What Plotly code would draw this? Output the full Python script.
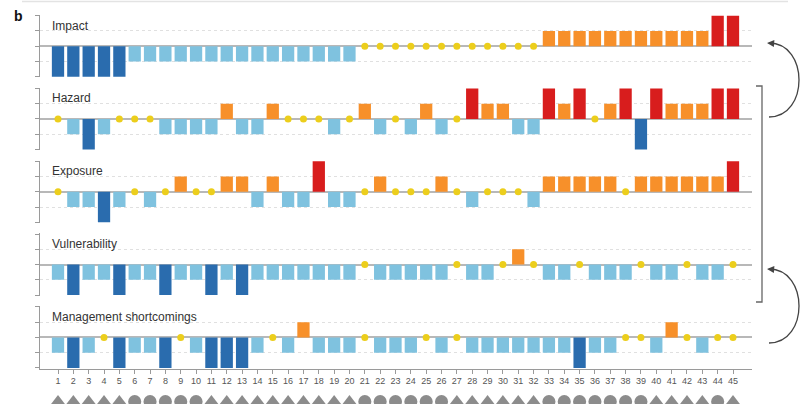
import plotly.graph_objects as go

# Case numbers along the x axis
cases = list(range(1, 46))

# Scores per factor: -2 strong decrease ... +2 strong increase, 0 = no change
impact = [-2, -2, -2, -2, -2, -1, -1, -1, -1, -1, -1, -1, -1, -1, -1,
          -1, -1, -1, -1, -1, 0, 0, 0, 0, 0, 0, 0, 0, 0, 0,
          0, 0, 1, 1, 1, 1, 1, 1, 1, 1, 1, 1, 1, 2, 2]
hazard = [0, -1, -2, -1, 0, 0, 0, -1, -1, -1, -1, 1, -1, -1, 1,
          0, 0, 0, -1, 0, 1, -1, 0, -1, 1, -1, 0, 2, 1, 1,
          -1, -1, 2, 1, 2, 0, 1, 2, -2, 2, 1, 1, 1, 2, 2]
exposure = [0, -1, -1, -2, -1, 0, -1, 0, 1, 0, 0, 1, 1, -1, 1,
            -1, -1, 2, -1, -1, 0, 1, 0, 0, 0, 1, 0, -1, 0, 0,
            0, -1, 1, 1, 1, 1, 1, 0, 1, 1, 1, 1, 1, 1, 2]
vulnerability = [-1, -2, -1, -1, -2, -1, -1, -2, -1, -1, -2, -1, -2, -1, -1,
                 -1, -1, -1, -1, -1, 0, -1, -1, -1, -1, -1, 0, -1, -1, 0,
                 1, 0, -1, -1, 0, -1, -1, -1, 0, -1, -1, 0, -1, -1, 0]
management = [-1, -2, -1, 0, -2, -1, -1, -2, 0, -1, -2, -2, -2, -1, 0,
              -1, 1, -1, -1, -1, 0, -1, -1, -1, 0, -1, 0, -1, -1, -1,
              -1, -1, -1, -1, -2, -1, -1, 0, 0, -1, 1, 0, -1, 0, 0]

# Event type per case: T = triangle, C = circle
event_type = ["T", "T", "T", "T", "T", "C", "C", "C", "C", "C",
              "T", "T", "T", "T", "T", "T", "T", "T", "T", "T",
              "C", "C", "C", "C", "C", "C", "T", "T", "T", "T",
              "T", "T", "C", "C", "C", "C", "C", "C", "C", "T",
              "T", "T", "T", "C", "T"]

panels = [
    ("Impact", impact),
    ("Hazard", hazard),
    ("Exposure", exposure),
    ("Vulnerability", vulnerability),
    ("Management shortcomings", management),
]

COLORS = {-2: "#2a6cae", -1: "#7fc2df", 1: "#f7902a", 2: "#d81d1d"}
DOT = "#ecce1c"
FONT = "Liberation Sans, Arial, sans-serif"

W, H = 800, 404
ML, MR = 40, 48
PW = W - ML - MR
UNIT = 15.25
HALF = 2.05 * UNIT
ZEROS = [46.2 + 72.8 * k for k in range(5)]
X_RANGE = [-0.1733, 46.2385]


def xp(px):
    return (px - ML) / PW


def yp(py):
    return (H - py) / H


fig = go.Figure()
layout = dict(
    width=W, height=H,
    margin=dict(l=ML, r=MR, t=0, b=0),
    paper_bgcolor="white", plot_bgcolor="white",
    showlegend=False,
    font=dict(family=FONT, color="#333"),
    bargap=0.2,
)

annotations = []
for k, (name, vals) in enumerate(panels):
    idx = k + 1
    xa = "x" if idx == 1 else f"x{idx}"
    ya = "y" if idx == 1 else f"y{idx}"
    z = ZEROS[k]
    dom = [yp(z + HALF), yp(z - HALF)]

    bar_y = [v if v != 0 else None for v in vals]
    bar_c = [COLORS.get(v, "rgba(0,0,0,0)") for v in vals]
    fig.add_trace(go.Bar(
        x=cases, y=bar_y, width=0.8,
        marker=dict(color=bar_c, line=dict(width=0)),
        xaxis=xa, yaxis=ya, hoverinfo="skip",
    ))
    dots = [c for c, v in zip(cases, vals) if v == 0]
    fig.add_trace(go.Scatter(
        x=dots, y=[0] * len(dots), mode="markers",
        marker=dict(color=DOT, size=7, line=dict(width=0)),
        xaxis=xa, yaxis=ya, hoverinfo="skip", cliponaxis=False,
    ))

    bottom = idx == 5
    layout["xaxis" if idx == 1 else f"xaxis{idx}"] = dict(
        domain=[0, 1], range=X_RANGE, anchor=ya,
        matches=None if idx == 1 else "x",
        showgrid=False, zeroline=False,
        showline=bottom, linecolor="#9a9a9a", linewidth=1,
        ticks="outside" if bottom else "", ticklen=4, tickcolor="#9a9a9a",
        tickvals=cases if bottom else [],
        showticklabels=bottom,
        tickfont=dict(size=9, color="#555", family=FONT),
        fixedrange=True,
    )
    layout["yaxis" if idx == 1 else f"yaxis{idx}"] = dict(
        domain=dom, range=[-2.05, 2.05], anchor=xa,
        tickvals=[-2, -1, 0, 1, 2], showticklabels=False,
        ticks="outside", ticklen=4, tickcolor="#9a9a9a",
        showline=True, linecolor="#9a9a9a", linewidth=1,
        showgrid=True, gridcolor="#e0e0e0", griddash="3px,3px", gridwidth=1,
        zeroline=True, zerolinecolor="#b8b8b8", zerolinewidth=1.5,
        fixedrange=True,
    )
    annotations.append(dict(
        text=name, xref=xa, yref=ya, x=0.48, y=1.35,
        xanchor="left", yanchor="middle", showarrow=False,
        font=dict(size=12, color="#333", family=FONT),
    ))

# Event-type markers under the case numbers
marker_sym = {"T": "triangle-up", "C": "circle"}
fig.add_trace(go.Scatter(
    x=cases, y=[2.5] * len(cases), mode="markers",
    marker=dict(symbol=[marker_sym[t] for t in event_type], size=13,
                color="#8c8c8c", line=dict(width=0)),
    xaxis="x", yaxis="y6", hoverinfo="skip", cliponaxis=False,
))
layout["yaxis6"] = dict(domain=[0, 20 / H], range=[0, 20], visible=False,
                        anchor="x", fixedrange=True)

# Panel letter
annotations.append(dict(
    text="<b>b</b>", xref="paper", yref="paper", x=xp(12), y=yp(16),
    xanchor="left", yanchor="middle", showarrow=False,
    font=dict(size=14, color="#111", family=FONT),
))

shapes = [
    # thin rule along the top
    dict(type="line", xref="paper", yref="paper",
         x0=xp(22), x1=xp(788), y0=yp(1.5), y1=yp(1.5),
         line=dict(color="#e3e3e3", width=1.5)),
    # bracket grouping hazard, exposure and vulnerability
    dict(type="path", xref="paper", yref="paper",
         path=f"M {xp(756)},{yp(86)} L {xp(762)},{yp(86)} L {xp(762)},{yp(302)} L {xp(756)},{yp(302)}",
         line=dict(color="#666", width=1.3)),
]

# curved feedback arrows on the right
for y_low, y_high in [(117, 43), (343, 269)]:
    cx = 769
    ctrl = cx + 40
    shapes.append(dict(
        type="path", xref="paper", yref="paper",
        path=(f"M {xp(cx)},{yp(y_low)} C {xp(ctrl)},{yp(y_low)} "
              f"{xp(ctrl)},{yp(y_high)} {xp(cx)},{yp(y_high)}"),
        line=dict(color="#444", width=1.3),
    ))
    annotations.append(dict(
        xref="paper", yref="paper", x=xp(cx - 2), y=yp(y_high),
        ax=7, ay=0.5, axref="pixel", ayref="pixel",
        text="", showarrow=True, arrowhead=2, arrowsize=1.1,
        arrowwidth=1.3, arrowcolor="#444",
    ))

layout["annotations"] = annotations
layout["shapes"] = shapes
fig.update_layout(**layout)

fig.write_html("out.html")
